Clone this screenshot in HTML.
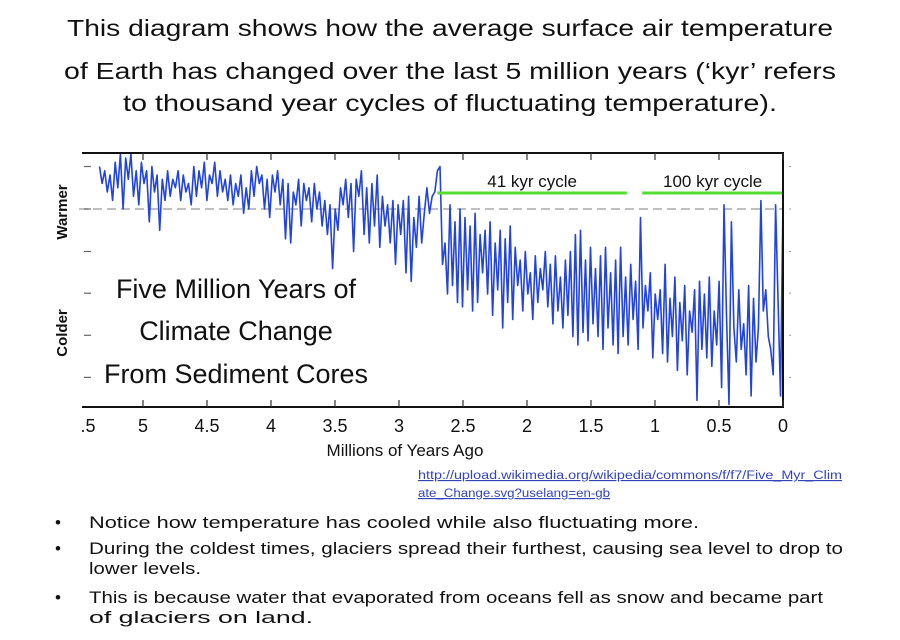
<!DOCTYPE html>
<html><head><meta charset="utf-8"><style>
html,body{margin:0;padding:0;background:#fff;width:900px;height:640px;overflow:hidden}
svg{display:block;font-family:"Liberation Sans",sans-serif}
</style></head><body>
<svg id="page" width="900" height="640" viewBox="0 0 900 640">
<g font-size="23" fill="#111" text-anchor="middle">
<text x="450" y="36" textLength="766" lengthAdjust="spacingAndGlyphs">This diagram shows how the average surface air temperature</text>
<text x="450" y="79" textLength="772" lengthAdjust="spacingAndGlyphs">of Earth has changed over the last 5 million years (‘kyr’ refers</text>
<text x="450" y="111" textLength="654" lengthAdjust="spacingAndGlyphs">to thousand year cycles of fluctuating temperature).</text>
</g>
<text transform="translate(67,212) rotate(-90)" text-anchor="middle" font-size="15" font-weight="bold" fill="#111">Warmer</text>
<text transform="translate(67,333) rotate(-90)" text-anchor="middle" font-size="15" font-weight="bold" fill="#111">Colder</text>
<g id="chart"></g>
<g font-size="11.5" fill="#3344bb" text-decoration="underline">
<text x="418" y="479" textLength="424" lengthAdjust="spacingAndGlyphs">http://upload.wikimedia.org/wikipedia/commons/f/f7/Five_Myr_Clim</text>
<text x="418" y="497" textLength="192" lengthAdjust="spacingAndGlyphs">ate_Change.svg?uselang=en-gb</text>
</g>
<g font-size="17" fill="#111">
<text x="55" y="528">•</text>
<text x="89" y="528" textLength="610" lengthAdjust="spacingAndGlyphs">Notice how temperature has cooled while also fluctuating more.</text>
<text x="55" y="554">•</text>
<text x="89" y="554" textLength="754" lengthAdjust="spacingAndGlyphs">During the coldest times, glaciers spread their furthest, causing sea level to drop to</text>
<text x="89" y="574" textLength="112" lengthAdjust="spacingAndGlyphs">lower levels.</text>
<text x="55" y="603">•</text>
<text x="89" y="603" textLength="734" lengthAdjust="spacingAndGlyphs">This is because water that evaporated from oceans fell as snow and became part</text>
<text x="89" y="623" textLength="224" lengthAdjust="spacingAndGlyphs">of glaciers on land.</text>
</g>
</svg>
<script>
const xTicks=[5.5,5,4.5,4,3.5,3,2.5,2,1.5,1,0.5,0];
const xTickLabels=[".5","5","4.5","4","3.5","3","2.5","2","1.5","1","0.5","0"];
const yTicks=[1,0,-1,-2,-3,-4];
const seg1Range=[5.34,2.70];
const seg1Values=[1.0,0.6,0.9,0.4,0.8,0.2,1.1,0.5,1.3,0.0,1.2,0.7,1.3,0.3,0.9,0.1,1.1,0.6,0.9,-0.3,1.0,0.4,0.8,-0.5,0.7,0.2,0.9,0.3,0.7,0.5,0.9,0.2,0.8,0.4,0.6,0.1,1.0,0.3,0.9,0.5,1.1,0.2,0.8,0.6,1.1,0.3,0.9,0.4,0.7,0.2,0.8,0.1,0.6,0.3,0.8,-0.1,0.5,0.0,0.9,0.3,1.0,0.6,0.8,0.0,0.7,-0.2,0.8,0.4,0.9,0.1,0.7,-0.7,0.6,-0.8,0.4,0.1,0.7,-0.4,0.6,0.2,0.5,-0.3,0.6,0.0,0.4,-0.4,0.2,-0.6,0.1,-1.4,0.0,-0.5,0.5,0.1,0.7,-0.2,0.6,-1.0,0.7,0.3,0.9,-0.6,0.5,-0.8,0.6,-0.4,0.8,-0.9,0.3,-0.4,0.1,-0.8,0.2,-1.3,0.1,-0.6,0.2,-1.5,0.3,-1.7,-0.2,-0.9,0.3,-0.8,-0.1,0.5,-0.1,0.3,0.4,0.9];
const seg2Range=[2.68,1.21];
const seg2Values=[1.0,-1.3,-0.8,-2.0,0.1,-1.8,-0.3,-2.2,0.0,-2.3,-0.2,-1.9,-0.4,-2.4,-0.1,-2.2,-0.6,-1.5,-0.5,-2.0,-0.3,-2.5,-0.8,-1.9,-0.5,-2.8,-0.7,-2.2,-0.4,-2.6,-0.9,-1.8,-1.2,-2.4,-1.0,-2.0,-1.5,-2.6,-1.1,-2.2,-1.4,-1.9,-1.0,-2.3,-1.3,-2.7,-1.1,-2.4,-1.6,-2.8,-1.2,-2.5,-1.0,-3.0,-0.6,-3.2,-0.5,-2.9,-1.2,-3.1,-0.9,-2.7,-1.4,-3.0,-1.1,-3.3,-0.9,-2.8,-1.5,-3.2,-1.2,-3.4,-0.9,-3.0,-1.6,-3.2];
const seg3Range=[1.19,0.0];
const seg3Values=[-1.3,-2.6,-1.7,-3.3,-0.2,-2.8,-1.8,-2.4,-1.5,-3.5,-2.0,-2.6,-1.9,-3.4,-1.3,-3.6,-2.1,-3.0,-1.6,-3.8,-2.2,-3.1,-1.8,-3.9,-2.4,-2.9,-1.9,-4.5,-1.7,-3.3,-2.0,-3.5,-1.6,-3.7,-2.4,-3.2,-1.7,-4.2,0.1,-2.5,-4.6,-0.3,-2.8,-3.6,-1.9,-3.3,-2.7,-3.9,-1.8,-4.4,-2.1,-3.6,-2.8,0.2,-2.4,-1.9,-3.0,-3.3,-3.9,0.1,-2.2,-4.4,0.2];
const cycleBands=[{label:"41 kyr cycle",from:2.70,to:1.22},{label:"100 kyr cycle",from:1.10,to:0}];

const NS="http://www.w3.org/2000/svg";
const L=79,R=783,T=153,B=407;
const xS=a=>R-a*128;
const yS=v=>209-v*42.5;
const g=document.getElementById('chart');
function mk(tag,attrs,parent){const e=document.createElementNS(NS,tag);for(const k in attrs)e.setAttribute(k,attrs[k]);(parent||g).appendChild(e);return e;}

let e;
e=mk('line',{x1:L,y1:209,x2:R,y2:209,stroke:'#aaa','stroke-width':1.5,'stroke-dasharray':'9,5'});



const pts=[];
[[seg1Range,seg1Values],[seg2Range,seg2Values],[seg3Range,seg3Values]].forEach(([r,vals])=>{
  const n=vals.length;
  vals.forEach((v,i)=>{const a=r[0]+(r[1]-r[0])*i/(n-1);pts.push(xS(a).toFixed(1)+','+yS(v).toFixed(1));});
});
e=mk('polyline',{points:pts.join(' '),fill:'none',stroke:'#2244dd','stroke-width':1.6,'stroke-linejoin':'round'});



cycleBands.forEach(c=>{
  const l=mk('line',{x1:xS(c.from),y1:193,x2:xS(c.to),y2:193,stroke:'#55dd33','stroke-width':3});
  
  
  const t=mk('text',{x:(xS(c.from)+xS(c.to))/2,y:187,'text-anchor':'middle','font-size':17,fill:'#111'});
  t.textContent=c.label;
  
  
});

e=mk('path',{d:`M${L+3},${T}H${R}V${B}H${L+3}`,fill:'none',stroke:'#111','stroke-width':2});



xTicks.forEach((a,i)=>{
  const x=xS(a);
  if(i>0){
    const t1=mk('line',{x1:x,y1:T,x2:x,y2:T+7,stroke:'#333','stroke-width':1.2});
    
    
    const t2=mk('line',{x1:x,y1:B,x2:x,y2:B-7,stroke:'#333','stroke-width':1.2});
    
    
  }
  const lb=mk('text',{x:i==0?x+9:x,y:432,'text-anchor':'middle','font-size':18,fill:'#111'});
  lb.textContent=xTickLabels[i];
  
  
});
yTicks.forEach(v=>{
  const y=yS(v)-(v<-1?v*-0.4:0);
  const t=mk('line',{x1:L+5,y1:y,x2:L+12,y2:y,stroke:'#666','stroke-width':1.2});
  
  
  const t2=mk('line',{x1:R+6,y1:y,x2:R+8,y2:y,stroke:'#999','stroke-width':1});
  
  
});
e=mk('text',{x:405,y:456,'text-anchor':'middle','font-size':17,fill:'#111'});
e.textContent='Millions of Years Ago';



['Five Million Years of','Climate Change','From Sediment Cores'].forEach((s,i)=>{
  const t=mk('text',{x:[236,236,236][i],y:[298,340,383][i],'text-anchor':'middle','font-size':27,fill:'#111'});
  t.textContent=s;
  
  
});
</script>
</body></html>
